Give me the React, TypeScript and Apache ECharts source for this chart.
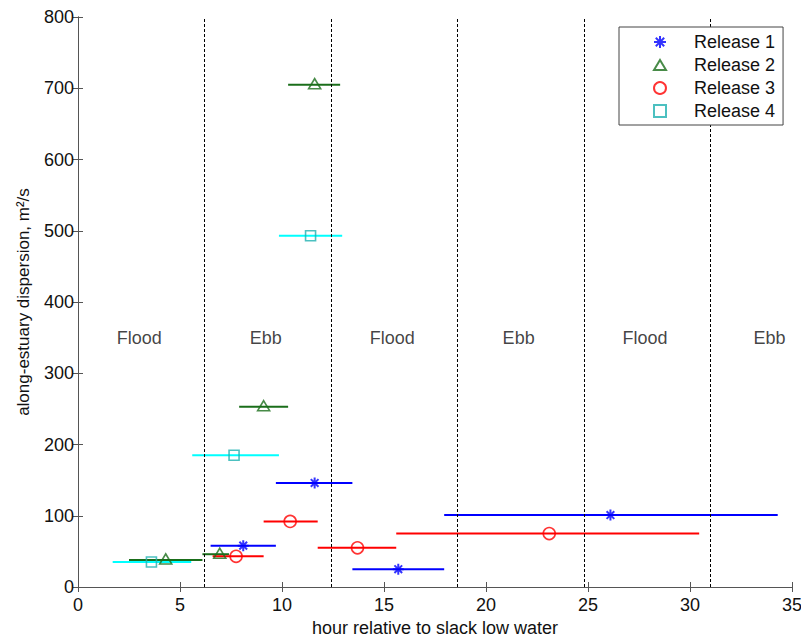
import React, { useEffect, useRef } from "react";
import * as echarts from "echarts";

// [x, y, xLow, xHigh]
const release1: number[][] = [
  [8.1, 58, 6.5, 9.7],
  [11.6, 146, 9.7, 13.45],
  [15.7, 25, 13.45, 17.95],
  [26.1, 101, 17.95, 34.3],
];
const release2: number[][] = [
  [4.3, 38, 2.5, 6.1],
  [6.95, 46, 6.1, 7.4],
  [9.1, 253, 7.9, 10.3],
  [11.6, 705, 10.3, 12.85],
];
const release3: number[][] = [
  [7.75, 43, 6.6, 9.1],
  [10.4, 92, 9.1, 11.75],
  [13.7, 55, 11.75, 15.6],
  [23.1, 75, 15.6, 30.45],
];
const release4: number[][] = [
  [3.6, 35, 1.7, 5.55],
  [7.65, 185, 5.6, 9.85],
  [11.4, 493, 9.85, 12.95],
];
const tideLines: number[] = [6.2, 12.4, 18.6, 24.8, 31.0];
const tideLabels: [number, number, string][] = [
  [3.0, 350, "Flood"],
  [9.2, 350, "Ebb"],
  [15.4, 350, "Flood"],
  [21.6, 350, "Ebb"],
  [27.8, 350, "Flood"],
  [33.9, 350, "Ebb"],
];
const seriesNames = ["Release 1", "Release 2", "Release 3", "Release 4"];

const FONT = "Liberation Sans, Arial, Helvetica, sans-serif";
const ASTERISK = "path://M5,0L5,10M0,5L10,5M1.5,1.5L8.5,8.5M1.5,8.5L8.5,1.5";
const TRIANGLE = "path://M6,0L12,10L0,10Z";
const SQUARE = "path://M0,0L10,0L10,10L0,10Z";

export default function App() {
  const ref = useRef<HTMLDivElement>(null);
  useEffect(() => {
    document.body.style.margin = "0";
    if (!ref.current) return;
    const chart = echarts.init(ref.current, null, { renderer: "svg" });

    const errSeries = (data: number[][], color: string, name: string) => ({
      type: "custom",
      name: name + "_err",
      xAxisIndex: 0,
      yAxisIndex: 0,
      silent: true,
      z: 2,
      data: data,
      encode: { x: 0, y: 1 },
      renderItem: (params: any, api: any) => {
        const y = api.value(1);
        const p1 = api.coord([api.value(2), y]);
        const p2 = api.coord([api.value(3), y]);
        return {
          type: "line",
          shape: { x1: p1[0], y1: p1[1], x2: p2[0], y2: p2[1] },
          style: { stroke: color, lineWidth: 2 },
        };
      },
    });

    const colors = {
      r1: "#0000ff",
      r2: "#1a6e1a",
      r2bar: "#1a6e1a",
      r3: "#ff0000",
      r4: "#1fb0b0",
      r4bar: "#00ffff",
    };

    const axisLine = { show: true, lineStyle: { color: "#555555", width: 1 } };
    const tick = { show: true, inside: true, length: 5, lineStyle: { color: "#555555" } };

    const option: any = {
      animation: false,
      backgroundColor: "#ffffff",
      textStyle: { fontFamily: FONT },
      grid: {
        left: 78,
        right: 9,
        top: 17,
        bottom: 52,
        containLabel: false,
        outerBoundsMode: "none",
      },
      legend: {
        orient: "vertical",
        left: 619,
        top: 27,
        data: seriesNames,
        itemWidth: 12,
        itemHeight: 12,
        itemGap: 5,
        symbolKeepAspect: true,
        padding: [6, 8, 5, 34],
        borderColor: "#444444",
        borderWidth: 1,
        backgroundColor: "#ffffff",
        textStyle: {
          fontFamily: FONT,
          fontSize: 18,
          color: "#111111",
          padding: [0, 0, 0, 23],
        },
        z: 10,
      },
      xAxis: [
        {
          type: "value",
          min: 0,
          max: 35,
          interval: 5,
          position: "bottom",
          name: "hour relative to slack low water",
          nameLocation: "middle",
          nameGap: 31,
          nameTextStyle: { fontFamily: FONT, fontSize: 18, color: "#111111" },
          axisLine,
          axisTick: tick,
          axisLabel: { fontFamily: FONT, fontSize: 18, color: "#111111", margin: 9 },
          splitLine: { show: false },
        },
        {
          type: "value",
          min: 0,
          max: 35,
          interval: 5,
          position: "top",
          axisLine,
          axisTick: tick,
          axisLabel: { show: false },
          splitLine: { show: false },
        },
      ],
      yAxis: [
        {
          type: "value",
          min: 0,
          max: 800,
          interval: 100,
          position: "left",
          name: "along-estuary dispersion, m²/s",
          nameLocation: "middle",
          nameGap: 46,
          nameRotate: 90,
          nameTextStyle: { fontFamily: FONT, fontSize: 17, color: "#111111" },
          axisLine,
          axisTick: tick,
          axisLabel: { fontFamily: FONT, fontSize: 18, color: "#111111", margin: 4 },
          splitLine: { show: false },
        },
        {
          type: "value",
          min: 0,
          max: 800,
          interval: 100,
          position: "right",
          axisLine,
          axisTick: tick,
          axisLabel: { show: false },
          splitLine: { show: false },
        },
      ],
      series: [
        {
          type: "scatter",
          name: "tide",
          silent: true,
          symbolSize: 0,
          data: tideLabels.map((d) => ({ value: [d[0], d[1]], name: d[2] })),
          label: {
            show: true,
            position: "inside",
            formatter: (p: any) => p.name,
            fontFamily: FONT,
            fontSize: 18,
            color: "#111111",
          },
          markLine: {
            silent: true,
            symbol: "none",
            label: { show: false },
            lineStyle: { color: "#000000", type: [3, 2], width: 1 },
            data: tideLines.map((x) => ({ xAxis: x })),
          },
          z: 1,
        },
        errSeries(release1, colors.r1, "Release 1"),
        errSeries(release2, colors.r2bar, "Release 2"),
        errSeries(release3, colors.r3, "Release 3"),
        errSeries(release4, colors.r4bar, "Release 4"),
        {
          type: "scatter",
          name: "Release 1",
          data: release1.map((d) => [d[0], d[1]]),
          symbol: ASTERISK,
          symbolSize: 11,
          itemStyle: { color: "rgba(0,0,0,0)", borderColor: colors.r1, borderWidth: 2 },
          z: 5,
        },
        {
          type: "scatter",
          name: "Release 2",
          data: release2.map((d) => [d[0], d[1]]),
          symbol: TRIANGLE,
          symbolSize: [12, 10],
          symbolOffset: [0, -1],
          itemStyle: { color: "rgba(0,0,0,0)", borderColor: colors.r2, borderWidth: 1.6 },
          z: 5,
        },
        {
          type: "scatter",
          name: "Release 3",
          data: release3.map((d) => [d[0], d[1]]),
          symbol: "circle",
          symbolSize: 12,
          itemStyle: { color: "rgba(0,0,0,0)", borderColor: colors.r3, borderWidth: 1.6 },
          z: 5,
        },
        {
          type: "scatter",
          name: "Release 4",
          data: release4.map((d) => [d[0], d[1]]),
          symbol: SQUARE,
          symbolSize: 10,
          itemStyle: { color: "rgba(0,0,0,0)", borderColor: colors.r4, borderWidth: 1.6 },
          z: 5,
        },
      ],
    };
    chart.setOption(option);
    return () => chart.dispose();
  }, []);
  return <div ref={ref} style={{ width: 801, height: 639 }} />;
}
